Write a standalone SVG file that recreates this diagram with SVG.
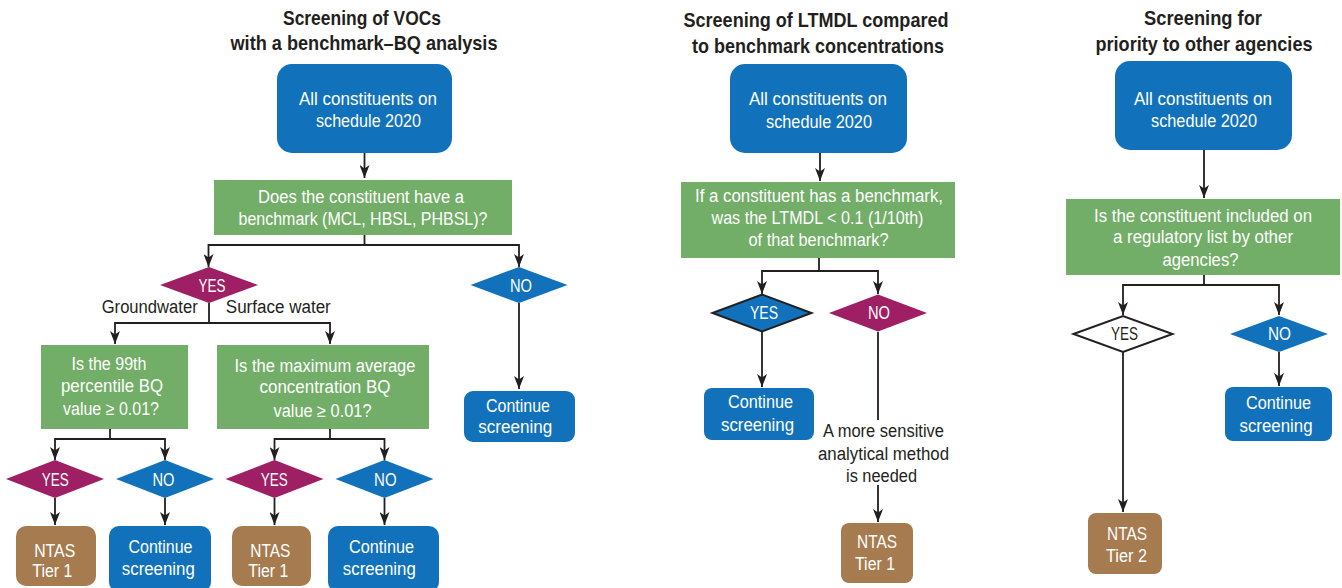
<svg xmlns="http://www.w3.org/2000/svg" width="1342" height="588" viewBox="0 0 1342 588">
  <defs>
    <marker id="arrow" viewBox="0 0 13 10" refX="13" refY="5" markerWidth="13" markerHeight="10" markerUnits="userSpaceOnUse" orient="auto">
      <path d="M0,0 L13,5 L0,10 L3.5,5 Z" fill="#231f20"/>
    </marker>
    <style>
      .blue { fill: #1172bb; }
      .green { fill: #72ae67; }
      .mag { fill: #9e1f63; }
      .brown { fill: #a67b50; }
      .outline { stroke: #231f20; stroke-width: 2; }
      .white { fill: #ffffff; }
      text { font-family: "Liberation Sans", Arial, sans-serif; text-anchor: middle; }
      .t { font-size: 18px; fill: #ffffff; }
      .d { font-size: 18px; fill: #231f20; }
      .h { font-size: 20.5px; font-weight: bold; fill: #231f20; }
      .conn path { fill: none; stroke: #231f20; stroke-width: 1.8; }
    </style>
  </defs>

  <!-- Column headings -->
  <g id="titles">
    <text class="h" x="362" y="25" textLength="158" lengthAdjust="spacingAndGlyphs">Screening of VOCs</text>
    <text class="h" x="364" y="50" textLength="267" lengthAdjust="spacingAndGlyphs">with a benchmark–BQ analysis</text>
    <text class="h" x="816" y="27" textLength="265" lengthAdjust="spacingAndGlyphs">Screening of LTMDL compared</text>
    <text class="h" x="818" y="53" textLength="252" lengthAdjust="spacingAndGlyphs">to benchmark concentrations</text>
    <text class="h" x="1203" y="25" textLength="118" lengthAdjust="spacingAndGlyphs">Screening for</text>
    <text class="h" x="1204" y="51" textLength="217" lengthAdjust="spacingAndGlyphs">priority to other agencies</text>
  </g>

  <!-- Connectors -->
  <g id="connectors" class="conn">
    <!-- column 1 -->
    <path d="M364.5,153 V178" marker-end="url(#arrow)"/>
    <path d="M364.5,235 V245 H208.5 V267" marker-end="url(#arrow)"/>
    <path d="M364.5,245 H519 V267" marker-end="url(#arrow)"/>
    <path d="M209,303 V323 H115 V344" marker-end="url(#arrow)"/>
    <path d="M209,323 H330 V344" marker-end="url(#arrow)"/>
    <path d="M519,303 V389" marker-end="url(#arrow)"/>
    <path d="M110,429 V439 H55 V460" marker-end="url(#arrow)"/>
    <path d="M110,439 H165 V460" marker-end="url(#arrow)"/>
    <path d="M330,429 V439 H274.5 V460" marker-end="url(#arrow)"/>
    <path d="M330,439 H384.5 V460" marker-end="url(#arrow)"/>
    <path d="M55,498 V525" marker-end="url(#arrow)"/>
    <path d="M165,498 V525" marker-end="url(#arrow)"/>
    <path d="M274.5,498 V525" marker-end="url(#arrow)"/>
    <path d="M384.5,498 V525" marker-end="url(#arrow)"/>
    <!-- column 2 -->
    <path d="M820,153 V181" marker-end="url(#arrow)"/>
    <path d="M819,258 V271 H762 V294" marker-end="url(#arrow)"/>
    <path d="M819,271 H878 V294" marker-end="url(#arrow)"/>
    <path d="M762,332 V387" marker-end="url(#arrow)"/>
    <path d="M878,332 V420"/>
    <path d="M878,485 V522" marker-end="url(#arrow)"/>
    <!-- column 3 -->
    <path d="M1204,150 V198" marker-end="url(#arrow)"/>
    <path d="M1204,275 V285 H1123 V315" marker-end="url(#arrow)"/>
    <path d="M1204,285 H1279 V315" marker-end="url(#arrow)"/>
    <path d="M1123,352 V512" marker-end="url(#arrow)"/>
    <path d="M1279,352 V386" marker-end="url(#arrow)"/>
  </g>

  <!-- Column 1: VOC benchmark-BQ screening -->
  <g id="p1-start">
    <rect class="blue" x="277" y="64" width="175" height="89" rx="15"/>
    <text class="t" x="368" y="105" textLength="138" lengthAdjust="spacingAndGlyphs">All constituents on</text>
    <text class="t" x="368.5" y="127" textLength="105" lengthAdjust="spacingAndGlyphs">schedule 2020</text>
  </g>
  <g id="p1-benchmark">
    <rect class="green" x="214" y="180" width="298" height="55"/>
    <text class="t" x="361" y="203" textLength="206" lengthAdjust="spacingAndGlyphs">Does the constituent have a</text>
    <text class="t" x="363" y="225" textLength="249" lengthAdjust="spacingAndGlyphs">benchmark (MCL, HBSL, PHBSL)?</text>
  </g>
  <g id="p1-yes">
    <polygon class="mag" points="160,285 209,267 258,285 209,303"/>
    <text class="t" x="212" y="292" textLength="27" lengthAdjust="spacingAndGlyphs">YES</text>
  </g>
  <g id="p1-no">
    <polygon class="blue" points="470.5,285 519,267 567.5,285 519,303"/>
    <text class="t" x="521" y="292" textLength="22" lengthAdjust="spacingAndGlyphs">NO</text>
  </g>
  <g id="p1-branch-labels">
    <text class="d" x="149.7" y="313" textLength="96" lengthAdjust="spacingAndGlyphs">Groundwater</text>
    <text class="d" x="278.3" y="313" textLength="105" lengthAdjust="spacingAndGlyphs">Surface water</text>
  </g>
  <g id="p1-groundwater">
    <rect class="green" x="41" y="345" width="147" height="84"/>
    <text class="t" x="109" y="370" textLength="75" lengthAdjust="spacingAndGlyphs">Is the 99th</text>
    <text class="t" x="112" y="392" textLength="102" lengthAdjust="spacingAndGlyphs">percentile BQ</text>
    <text class="t" x="111" y="415" textLength="96" lengthAdjust="spacingAndGlyphs">value ≥ 0.01?</text>
  </g>
  <g id="p1-surface">
    <rect class="green" x="217" y="345" width="212" height="84"/>
    <text class="t" x="325" y="372" textLength="181" lengthAdjust="spacingAndGlyphs">Is the maximum average</text>
    <text class="t" x="325" y="393" textLength="131" lengthAdjust="spacingAndGlyphs">concentration BQ</text>
    <text class="t" x="322.5" y="417" textLength="98" lengthAdjust="spacingAndGlyphs">value ≥ 0.01?</text>
  </g>
  <g id="p1-gw-yes">
    <polygon class="mag" points="6,479 55,460 104,479 55,498"/>
    <text class="t" x="55.3" y="486" textLength="27" lengthAdjust="spacingAndGlyphs">YES</text>
  </g>
  <g id="p1-gw-no">
    <polygon class="blue" points="116,479 165,460 214,479 165,498"/>
    <text class="t" x="163.5" y="486" textLength="22" lengthAdjust="spacingAndGlyphs">NO</text>
  </g>
  <g id="p1-sw-yes">
    <polygon class="mag" points="225.5,479 274.5,460 323.5,479 274.5,498"/>
    <text class="t" x="274.3" y="486" textLength="27" lengthAdjust="spacingAndGlyphs">YES</text>
  </g>
  <g id="p1-sw-no">
    <polygon class="blue" points="335.5,479 384.5,460 433.5,479 384.5,498"/>
    <text class="t" x="385.3" y="486" textLength="22.5" lengthAdjust="spacingAndGlyphs">NO</text>
  </g>
  <g id="p1-gw-ntas">
    <rect class="brown" x="16" y="526" width="80" height="60" rx="10"/>
    <text class="t" x="54.7" y="557" textLength="41" lengthAdjust="spacingAndGlyphs">NTAS</text>
    <text class="t" x="52.3" y="577" textLength="40" lengthAdjust="spacingAndGlyphs">Tier 1</text>
  </g>
  <g id="p1-gw-continue">
    <rect class="blue" x="109" y="526" width="102" height="66" rx="10"/>
    <text class="t" x="160.5" y="553" textLength="64" lengthAdjust="spacingAndGlyphs">Continue</text>
    <text class="t" x="158.3" y="575" textLength="73" lengthAdjust="spacingAndGlyphs">screening</text>
  </g>
  <g id="p1-sw-ntas">
    <rect class="brown" x="232" y="526" width="79" height="60" rx="10"/>
    <text class="t" x="270.3" y="557" textLength="40" lengthAdjust="spacingAndGlyphs">NTAS</text>
    <text class="t" x="268.3" y="577" textLength="40" lengthAdjust="spacingAndGlyphs">Tier 1</text>
  </g>
  <g id="p1-sw-continue">
    <rect class="blue" x="328" y="526" width="111" height="66" rx="10"/>
    <text class="t" x="381.5" y="553" textLength="65" lengthAdjust="spacingAndGlyphs">Continue</text>
    <text class="t" x="379.3" y="575" textLength="73" lengthAdjust="spacingAndGlyphs">screening</text>
  </g>
  <g id="p1-no-continue">
    <rect class="blue" x="464" y="391" width="111" height="51" rx="9"/>
    <text class="t" x="518" y="412" textLength="64" lengthAdjust="spacingAndGlyphs">Continue</text>
    <text class="t" x="515.3" y="433" textLength="74" lengthAdjust="spacingAndGlyphs">screening</text>
  </g>

  <!-- Column 2: LTMDL against benchmark -->
  <g id="p2-start">
    <rect class="blue" x="730" y="64" width="177" height="89" rx="15"/>
    <text class="t" x="818" y="105" textLength="138" lengthAdjust="spacingAndGlyphs">All constituents on</text>
    <text class="t" x="819" y="128" textLength="106" lengthAdjust="spacingAndGlyphs">schedule 2020</text>
  </g>
  <g id="p2-ltmdl">
    <rect class="green" x="681" y="182" width="274" height="76"/>
    <text class="t" x="819" y="202" textLength="248" lengthAdjust="spacingAndGlyphs">If a constituent has a benchmark,</text>
    <text class="t" x="817.5" y="224" textLength="212" lengthAdjust="spacingAndGlyphs">was the LTMDL &lt; 0.1 (1/10th)</text>
    <text class="t" x="818.5" y="246" textLength="140" lengthAdjust="spacingAndGlyphs">of that benchmark?</text>
  </g>
  <g id="p2-yes">
    <polygon class="blue outline" points="712.5,313 762,294.5 811.5,313 762,331.5"/>
    <text class="t" x="764" y="319" textLength="28" lengthAdjust="spacingAndGlyphs">YES</text>
  </g>
  <g id="p2-no">
    <polygon class="mag" points="829,313 878,294.5 927,313 878,331.5"/>
    <text class="t" x="879" y="319" textLength="22" lengthAdjust="spacingAndGlyphs">NO</text>
  </g>
  <g id="p2-continue">
    <rect class="blue" x="704" y="388" width="110" height="52" rx="8"/>
    <text class="t" x="760.5" y="408" textLength="65" lengthAdjust="spacingAndGlyphs">Continue</text>
    <text class="t" x="757.5" y="431" textLength="73" lengthAdjust="spacingAndGlyphs">screening</text>
  </g>
  <g id="p2-note">
    <text class="d" x="883.5" y="437" textLength="121" lengthAdjust="spacingAndGlyphs">A more sensitive</text>
    <text class="d" x="883.5" y="460" textLength="131" lengthAdjust="spacingAndGlyphs">analytical method</text>
    <text class="d" x="881.5" y="482" textLength="71" lengthAdjust="spacingAndGlyphs">is needed</text>
  </g>
  <g id="p2-ntas">
    <rect class="brown" x="841" y="523" width="72" height="60" rx="8"/>
    <text class="t" x="877" y="548" textLength="40" lengthAdjust="spacingAndGlyphs">NTAS</text>
    <text class="t" x="875" y="570" textLength="40" lengthAdjust="spacingAndGlyphs">Tier 1</text>
  </g>

  <!-- Column 3: priority to other agencies -->
  <g id="p3-start">
    <rect class="blue" x="1115" y="61" width="177" height="89" rx="15"/>
    <text class="t" x="1203" y="105" textLength="138" lengthAdjust="spacingAndGlyphs">All constituents on</text>
    <text class="t" x="1204" y="127" textLength="106" lengthAdjust="spacingAndGlyphs">schedule 2020</text>
  </g>
  <g id="p3-regulatory">
    <rect class="green" x="1066" y="199" width="274" height="76"/>
    <text class="t" x="1203" y="222" textLength="218" lengthAdjust="spacingAndGlyphs">Is the constituent included on</text>
    <text class="t" x="1203" y="243" textLength="180" lengthAdjust="spacingAndGlyphs">a regulatory list by other</text>
    <text class="t" x="1200.5" y="266" textLength="76" lengthAdjust="spacingAndGlyphs">agencies?</text>
  </g>
  <g id="p3-yes">
    <polygon class="white outline" points="1073.5,334 1123,316 1172.5,334 1123,352"/>
    <text class="d" x="1124.5" y="340" textLength="27" lengthAdjust="spacingAndGlyphs">YES</text>
  </g>
  <g id="p3-no">
    <polygon class="blue" points="1230,334 1279,316 1328,334 1279,352"/>
    <text class="t" x="1279.5" y="340" textLength="23" lengthAdjust="spacingAndGlyphs">NO</text>
  </g>
  <g id="p3-ntas">
    <rect class="brown" x="1088" y="513" width="74" height="61" rx="8"/>
    <text class="t" x="1127" y="540" textLength="40" lengthAdjust="spacingAndGlyphs">NTAS</text>
    <text class="t" x="1126.5" y="562" textLength="41" lengthAdjust="spacingAndGlyphs">Tier 2</text>
  </g>
  <g id="p3-continue">
    <rect class="blue" x="1225" y="387" width="107" height="54" rx="8"/>
    <text class="t" x="1278.5" y="409" textLength="65" lengthAdjust="spacingAndGlyphs">Continue</text>
    <text class="t" x="1276" y="432" textLength="73" lengthAdjust="spacingAndGlyphs">screening</text>
  </g>
</svg>
